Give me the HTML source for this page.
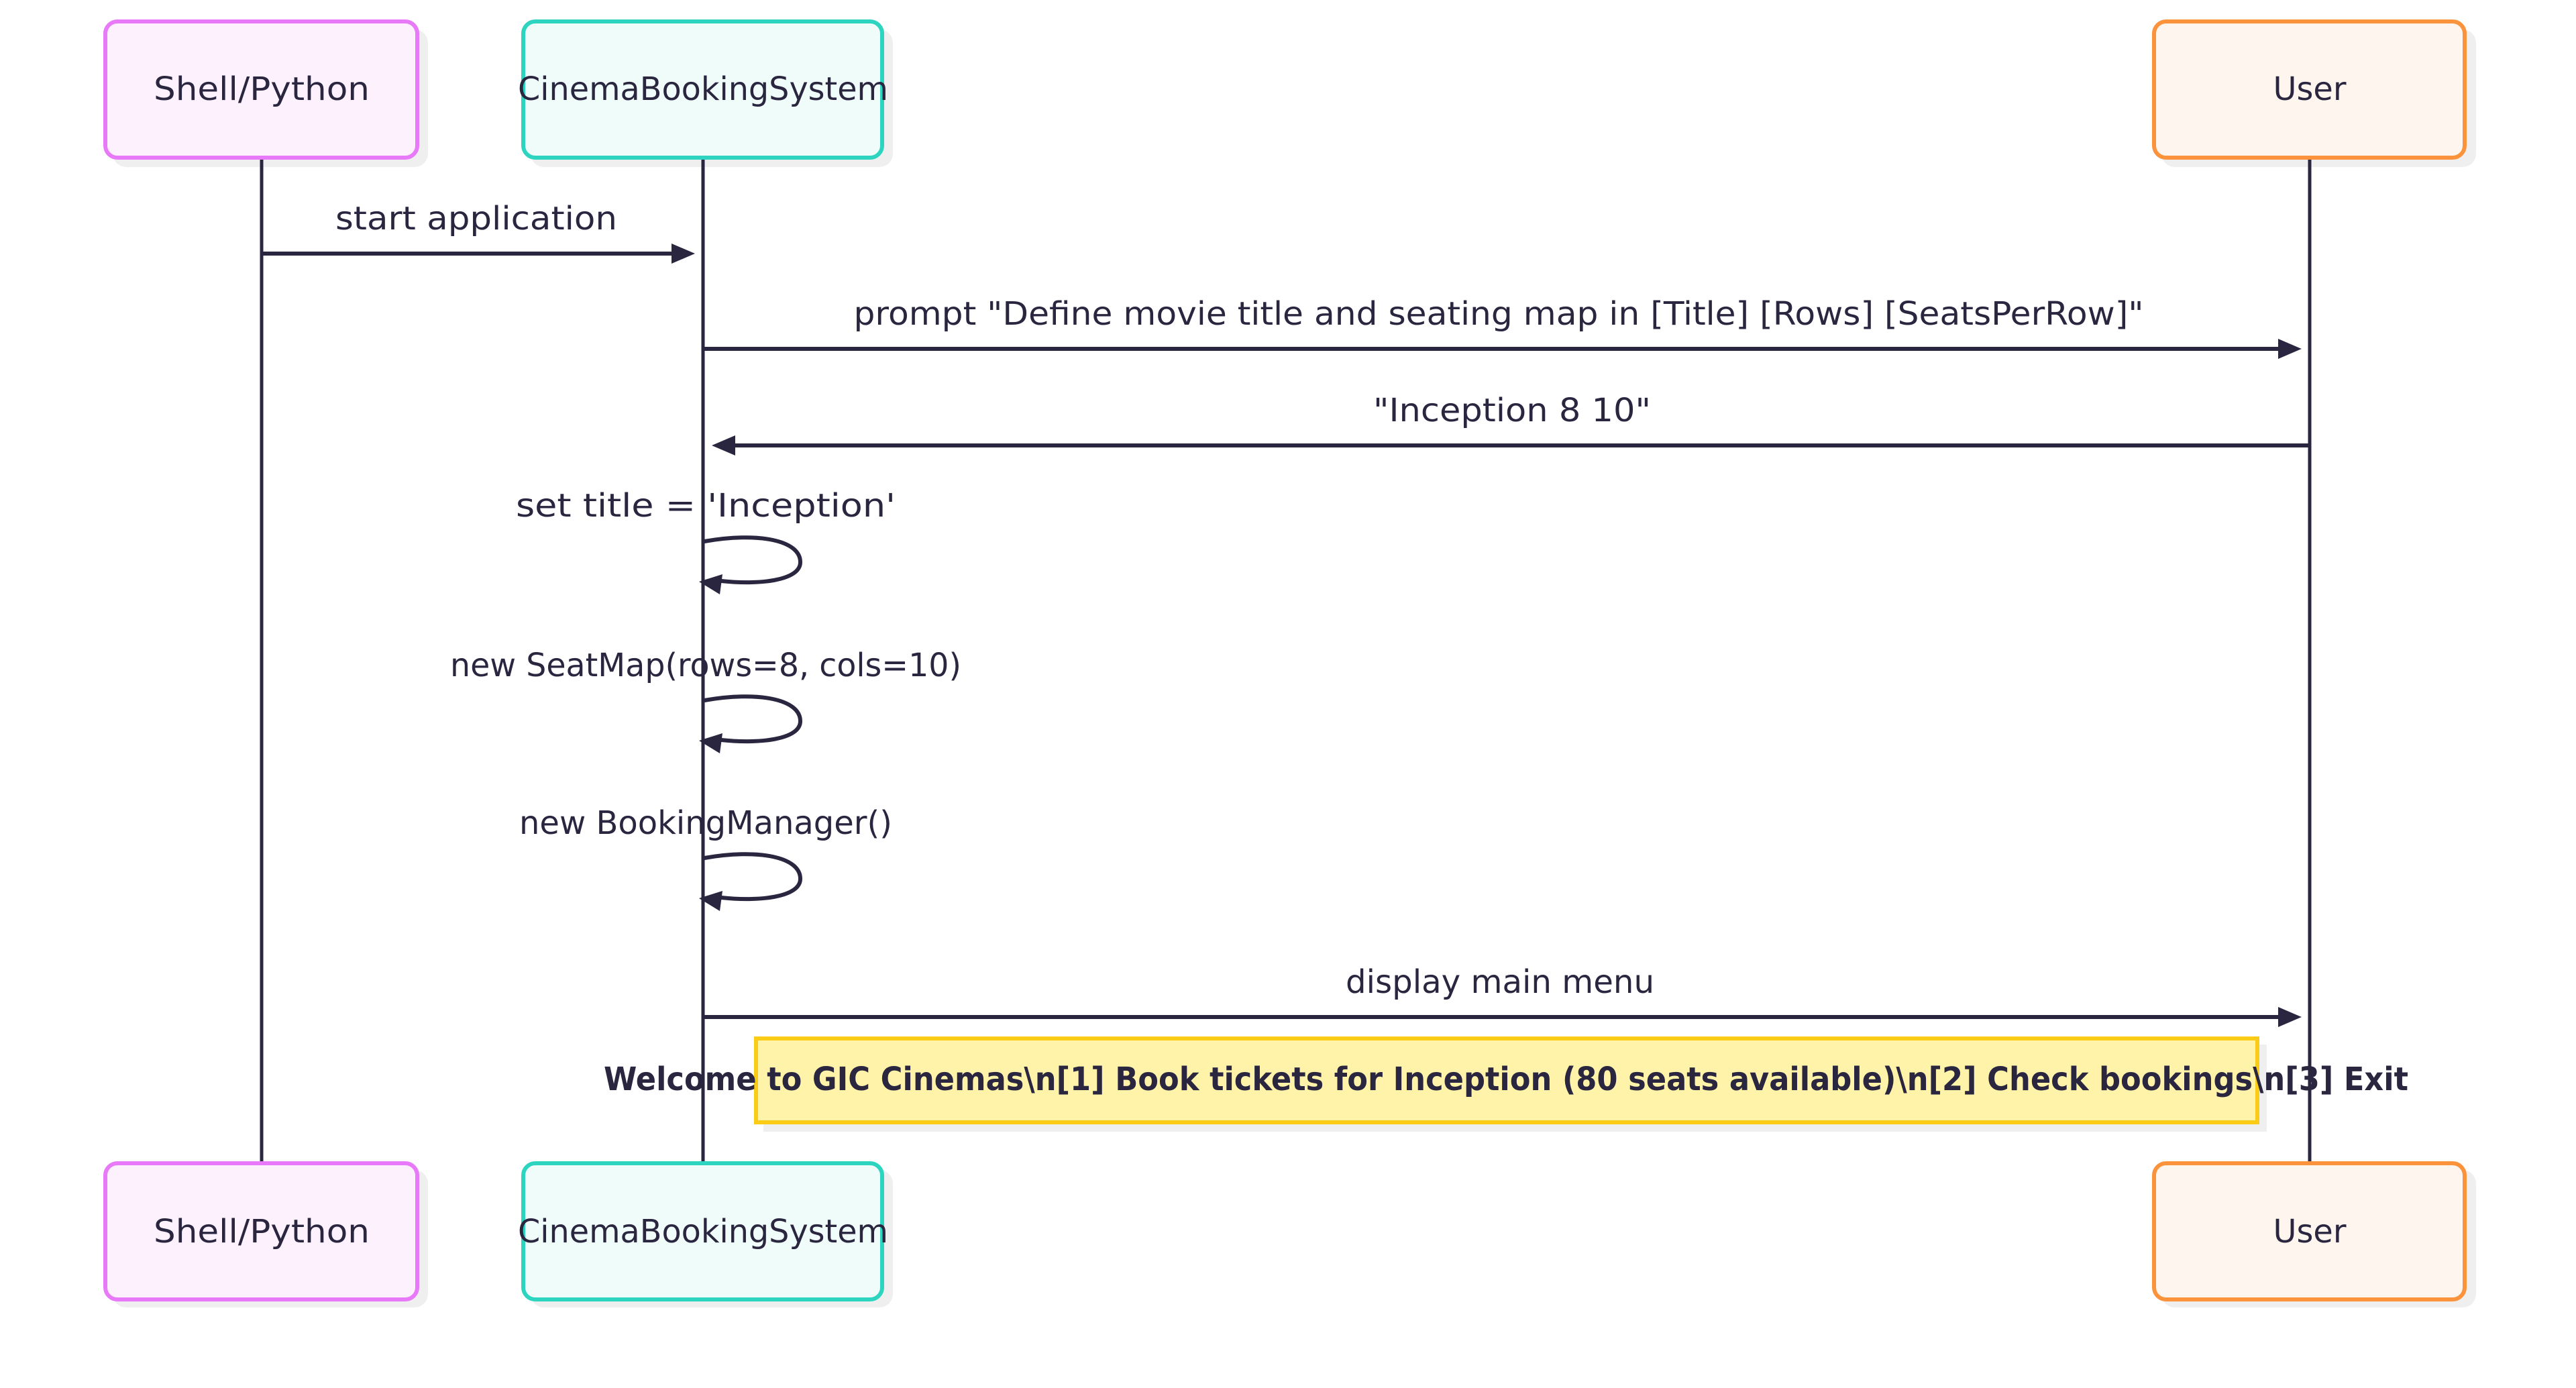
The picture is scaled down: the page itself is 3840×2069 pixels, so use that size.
<!DOCTYPE html>
<html><head><meta charset="utf-8"><style>html,body{margin:0;padding:0;background:#fff}svg{display:block}</style></head>
<body>
<svg width="3840" height="2069" viewBox="0 0 3840 2069" xmlns="http://www.w3.org/2000/svg" font-family="'DejaVu Sans','Liberation Sans',sans-serif" fill="#2a2640">
<!-- shadows -->
<g fill="#efefef">
<rect x="168" y="44" width="470" height="205" rx="20"/>
<rect x="791" y="44" width="540" height="205" rx="20"/>
<rect x="3222" y="44" width="469" height="205" rx="20"/>
<rect x="168" y="1744" width="470" height="205" rx="20"/>
<rect x="791" y="1744" width="540" height="205" rx="20"/>
<rect x="3222" y="1744" width="469" height="205" rx="20"/>
<rect x="1138" y="1557" width="2241" height="130"/>
</g>
<!-- lifelines -->
<g stroke="#2a2640" stroke-width="5">
<line x1="390" y1="235" x2="390" y2="1735"/>
<line x1="1048" y1="235" x2="1048" y2="1735"/>
<line x1="3443" y1="235" x2="3443" y2="1735"/>
</g>
<!-- boxes -->
<g stroke-width="6">
<rect x="157" y="32" width="465" height="203" rx="18" fill="#fdf1fd" stroke="#e879f9"/>
<rect x="780" y="32" width="535" height="203" rx="18" fill="#effcf9" stroke="#2dd4bf"/>
<rect x="3211" y="32" width="463" height="203" rx="18" fill="#fef6ee" stroke="#fb923c"/>
<rect x="157" y="1734" width="465" height="203" rx="18" fill="#fdf1fd" stroke="#e879f9"/>
<rect x="780" y="1734" width="535" height="203" rx="18" fill="#effcf9" stroke="#2dd4bf"/>
<rect x="3211" y="1734" width="463" height="203" rx="18" fill="#fef6ee" stroke="#fb923c"/>
</g>
<g font-size="48" text-anchor="middle" dominant-baseline="central">
<text x="390" y="133" textLength="322" lengthAdjust="spacingAndGlyphs">Shell/Python</text>
<text x="1048" y="133" textLength="552" lengthAdjust="spacingAndGlyphs">CinemaBookingSystem</text>
<text x="3443" y="133" textLength="109" lengthAdjust="spacingAndGlyphs">User</text>
<text x="390" y="1836" textLength="322" lengthAdjust="spacingAndGlyphs">Shell/Python</text>
<text x="1048" y="1836" textLength="552" lengthAdjust="spacingAndGlyphs">CinemaBookingSystem</text>
<text x="3443" y="1836" textLength="109" lengthAdjust="spacingAndGlyphs">User</text>
</g>
<!-- messages -->
<g stroke="#2a2640" stroke-width="6" fill="none">
<line x1="392" y1="378" x2="1010" y2="378"/>
<line x1="1050" y1="520" x2="3405" y2="520"/>
<line x1="1090" y1="664" x2="3441" y2="664"/>
<line x1="1050" y1="1516" x2="3405" y2="1516"/>
<path d="M1050 807 C1130 793 1193 805 1193 838 C1193 866 1130 872 1075 866"/>
<path d="M1050 1044 C1130 1030 1193 1042 1193 1075 C1193 1103 1130 1109 1075 1103"/>
<path d="M1050 1279 C1130 1265 1193 1277 1193 1310 C1193 1338 1130 1344 1075 1338"/>
</g>
<g fill="#2a2640">
<polygon points="1036,378 1001,363 1001,393"/>
<polygon points="3431,520 3396,505 3396,535"/>
<polygon points="1061,664 1096,649 1096,679"/>
<polygon points="3431,1516 3396,1501 3396,1531"/>
<polygon points="1042,867 1077,856 1073,886"/>
<polygon points="1042,1104 1077,1093 1073,1123"/>
<polygon points="1042,1339 1077,1328 1073,1358"/>
</g>
<g font-size="48" text-anchor="middle" dominant-baseline="central">
<text x="710" y="326" textLength="420" lengthAdjust="spacingAndGlyphs">start application</text>
<text x="2234" y="468" textLength="1923" lengthAdjust="spacingAndGlyphs">prompt "Define movie title and seating map in [Title] [Rows] [SeatsPerRow]"</text>
<text x="2254" y="612" textLength="414" lengthAdjust="spacingAndGlyphs">"Inception 8 10"</text>
<text x="1052" y="754" textLength="566" lengthAdjust="spacingAndGlyphs">set title = 'Inception'</text>
<text x="1052" y="992" textLength="762" lengthAdjust="spacingAndGlyphs">new SeatMap(rows=8, cols=10)</text>
<text x="1052" y="1227" textLength="556" lengthAdjust="spacingAndGlyphs">new BookingManager()</text>
<text x="2236" y="1464" textLength="460" lengthAdjust="spacingAndGlyphs">display main menu</text>
</g>
<!-- note -->
<rect x="1127" y="1548" width="2238" height="125" fill="#fef3a8" stroke="#facc15" stroke-width="6"/>
<text x="2245" y="1609" font-size="48" font-weight="bold" text-anchor="middle" dominant-baseline="central" textLength="2690" lengthAdjust="spacingAndGlyphs">Welcome to GIC Cinemas\n[1] Book tickets for Inception (80 seats available)\n[2] Check bookings\n[3] Exit</text>
</svg>
</body></html>
